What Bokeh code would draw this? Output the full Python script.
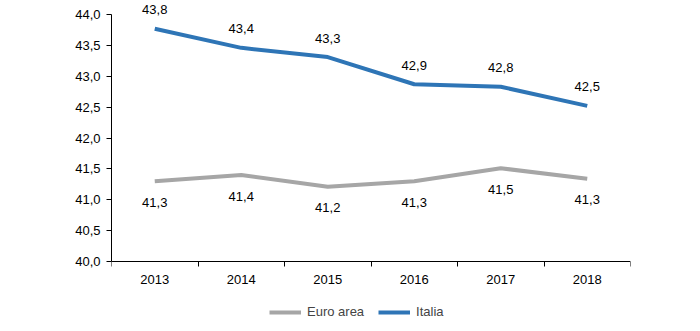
from bokeh.plotting import figure
from bokeh.models import FixedTicker, CustomJSTickFormatter, Legend, LegendItem, ColumnDataSource, Range1d
from bokeh.core.properties import value
from bokeh.embed import file_html
from bokeh.resources import INLINE

years = ["2013", "2014", "2015", "2016", "2017", "2018"]
italia = [43.77, 43.46, 43.31, 42.87, 42.83, 42.52]
euro_area = [41.30, 41.40, 41.21, 41.30, 41.51, 41.34]
italia_labels = ["43,8", "43,4", "43,3", "42,9", "42,8", "42,5"]
euro_labels = ["41,3", "41,4", "41,2", "41,3", "41,5", "41,3"]
y_ticks = [40.0, 40.5, 41.0, 41.5, 42.0, 42.5, 43.0, 43.5, 44.0]

FONT = "Liberation Sans"
BLUE = "#2E75B6"
GREY = "#A6A6A6"

xs = [i + 0.5 for i in range(len(years))]

# frame spans full height; 44 -> y=14px, 40 -> y=261px
PX_PER_UNIT = 247 / 4.0
y_top = 44 + 14 / PX_PER_UNIT
y_bot = 40 - 70 / PX_PER_UNIT

p = figure(width=700, height=331, output_backend="svg", toolbar_location=None,
           x_range=Range1d(0, len(years)), y_range=Range1d(y_bot, y_top),
           min_border_left=111, min_border_right=70, min_border_top=0, min_border_bottom=0)
p.outline_line_color = None
p.xgrid.visible = False
p.ygrid.visible = False
p.background_fill_color = "white"
p.border_fill_color = "white"

src_it = ColumnDataSource(dict(x=xs, y=italia, t=italia_labels))
src_eu = ColumnDataSource(dict(x=xs, y=euro_area, t=euro_labels))

r_eu = p.line("x", "y", source=src_eu, line_color=GREY, line_width=4)
r_it = p.line("x", "y", source=src_it, line_color=BLUE, line_width=4)

p.text("x", "y", text="t", source=src_it, text_align="center", text_baseline="middle",
       y_offset=-19, text_font=value(FONT), text_font_size="13px", text_color="black")
p.text("x", "y", text="t", source=src_eu, text_align="center", text_baseline="middle",
       y_offset=21, text_font=value(FONT), text_font_size="13px", text_color="black")

# x axis
p.xaxis.fixed_location = 40
p.xaxis.ticker = FixedTicker(ticks=xs, minor_ticks=list(range(len(years) + 1)))
p.xaxis.major_label_overrides = {x: y for x, y in zip(xs, years)}
p.xaxis.major_tick_out = 0
p.xaxis.major_tick_in = 0
p.xaxis.minor_tick_out = 5
p.xaxis.minor_tick_in = 0
p.xaxis.minor_tick_line_color = "black"
p.xaxis.major_label_standoff = 8

# y axis
p.yaxis.bounds = (40, 44)
p.yaxis.ticker = FixedTicker(ticks=y_ticks, minor_ticks=[])
p.yaxis.formatter = CustomJSTickFormatter(code="return tick.toFixed(1).replace('.', ',');")
p.yaxis.major_tick_out = 5
p.yaxis.major_tick_in = 0
p.yaxis.major_label_standoff = 6

for ax in (p.xaxis, p.yaxis):
    ax.axis_line_color = "black"
    ax.axis_line_width = 1
    ax.major_tick_line_color = "black"
    ax.major_label_text_font = FONT
    ax.major_label_text_font_size = "13px"
    ax.major_label_text_color = "black"

legend = Legend(items=[LegendItem(label="Euro area", renderers=[r_eu]),
                       LegendItem(label="Italia", renderers=[r_it])],
                orientation="horizontal", location=(158, 12),
                label_text_font=FONT, label_text_font_size="13px",
                glyph_width=32, glyph_height=12, label_standoff=6, spacing=14,
                border_line_color=None, background_fill_alpha=0,
                margin=0, padding=4)
p.add_layout(legend, "center")

open("out.html", "w").write(file_html(p, INLINE))
